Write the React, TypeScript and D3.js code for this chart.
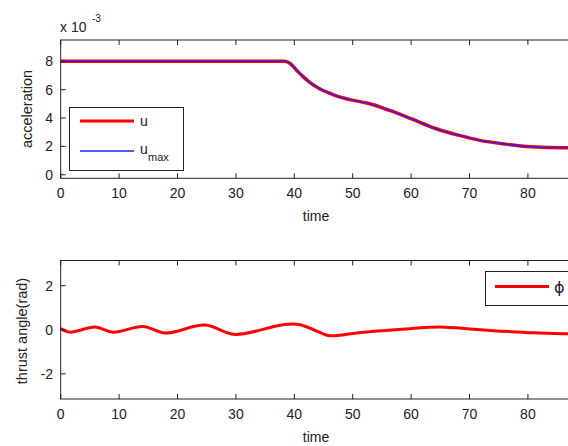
import React from "react";
import * as d3 from "d3";

const tU = [0, 38.4, 39.3, 40.4, 41.5, 42.7, 44.4, 46.0, 47.2, 49.5, 52.8, 56.2, 60.2, 64.2, 68.1, 71.6, 76.1, 80.6, 86.3, 90];
const uVals = [8, 8, 7.84, 7.37, 6.92, 6.5, 6.05, 5.75, 5.56, 5.3, 5.02, 4.55, 3.92, 3.26, 2.79, 2.44, 2.16, 1.97, 1.9, 1.9];
const uMaxVals = [8, 8, 7.84, 7.37, 6.92, 6.5, 6.05, 5.75, 5.56, 5.3, 5.02, 4.55, 3.92, 3.26, 2.79, 2.44, 2.16, 1.97, 1.9, 1.9];

const tPhi = [0, 1.6, 5.9, 9, 14.1, 17.9, 24.7, 29.8, 38.1, 41, 45.8, 47, 51.8, 59.8, 64.9, 71.8, 80.9, 86.6, 90];
const phiVals = [0.05, -0.11, 0.12, -0.11, 0.15, -0.15, 0.21, -0.21, 0.23, 0.23, -0.26, -0.27, -0.11, 0.05, 0.12, 0, -0.14, -0.18, -0.19];

const xTicks = [0, 10, 20, 30, 40, 50, 60, 70, 80];
const accTicks = [0, 2, 4, 6, 8];
const phiTicks = [-2, 0, 2];

const FONT = "Liberation Sans, Arial, sans-serif";

export default function App() {
  const x = d3.scaleLinear().domain([0, 90]).range([60.7, 586.3]);
  const yA = d3.scaleLinear().domain([-0.25, 9.5]).range([178.3, 40]);
  const yP = d3.scaleLinear().domain([-Math.PI, Math.PI]).range([399, 260.5]);

  const lineU = d3.line<number>().x((_, i) => x(tU[i])).y((d) => yA(d)).curve(d3.curveMonotoneX);
  const lineP = d3.line<number>().x((_, i) => x(tPhi[i])).y((d) => yP(d)).curve(d3.curveCatmullRom);

  const axisBox = (yScale: d3.ScaleLinear<number, number>, yt: number[], key: string) => {
    const [yb, ytp] = yScale.range();
    const x0 = x.range()[0];
    const x1 = x.range()[1];
    return (
      <g key={key}>
        <rect x={x0} y={ytp} width={x1 - x0} height={yb - ytp} fill="none" stroke="#222" strokeWidth={1} />
        {xTicks.map((t) => (
          <g key={"xt" + t}>
            <line x1={x(t)} x2={x(t)} y1={yb} y2={yb - 5} stroke="#222" />
            <line x1={x(t)} x2={x(t)} y1={ytp} y2={ytp + 5} stroke="#222" />
            <text x={x(t)} y={yb + 20} textAnchor="middle" fontSize={14} fontFamily={FONT} fill="#222">{t}</text>
          </g>
        ))}
        {yt.map((v) => (
          <g key={"yt" + v}>
            <line x1={x0} x2={x0 + 5} y1={yScale(v)} y2={yScale(v)} stroke="#222" />
            <text x={53} y={yScale(v) + 5} textAnchor="end" fontSize={14} fontFamily={FONT} fill="#222">{v}</text>
          </g>
        ))}
      </g>
    );
  };

  return (
    <svg width={568} height={446} style={{ position: "absolute", left: 0, top: 0, background: "#fff" }}>
      <rect x={0} y={0} width={568} height={446} fill="#fff" />
      {/* top plot */}
      <path d={lineU(uVals) || ""} fill="none" stroke="#ff0000" strokeWidth={3.5} />
      <path d={lineU(uMaxVals) || ""} fill="none" stroke="#2222ff" strokeWidth={1.3} />
      {axisBox(yA, accTicks, "a")}
      <text x={60} y={32} fontSize={14} fontFamily={FONT} fill="#222">x 10</text>
      <text x={92} y={22} fontSize={10} fontFamily={FONT} fill="#222">-3</text>
      <text transform="translate(32,109) rotate(-90)" textAnchor="middle" fontSize={14.5} fontFamily={FONT} fill="#222">acceleration</text>
      <text x={316} y={221} textAnchor="middle" fontSize={14} fontFamily={FONT} fill="#222">time</text>
      <g>
        <rect x={69.5} y={107.5} width={114} height={63} fill="#fff" stroke="#222" />
        <line x1={80} x2={134} y1={121} y2={121} stroke="#ff0000" strokeWidth={3} />
        <text x={140} y={126} fontSize={14} fontFamily={FONT} fill="#222">u</text>
        <line x1={80} x2={134} y1={151} y2={151} stroke="#2222ff" strokeWidth={1.3} />
        <text x={140} y={154} fontSize={14} fontFamily={FONT} fill="#222">u</text>
        <text x={148} y={161} fontSize={11} fontFamily={FONT} fill="#222">max</text>
      </g>
      {/* bottom plot */}
      <path d={lineP(phiVals) || ""} fill="none" stroke="#ff0000" strokeWidth={3} />
      {axisBox(yP, phiTicks, "p")}
      <text transform="translate(27,331) rotate(-90)" textAnchor="middle" fontSize={14.5} fontFamily={FONT} fill="#222">thrust angle(rad)</text>
      <text x={316} y={442} textAnchor="middle" fontSize={14} fontFamily={FONT} fill="#222">time</text>
      <g>
        <rect x={485.5} y={271.5} width={100} height={34} fill="#fff" stroke="#222" />
        <line x1={495} x2={549} y1={286.5} y2={286.5} stroke="#ff0000" strokeWidth={3} />
        <text x={554} y={293} fontSize={16} fontFamily="DejaVu Sans, sans-serif" fill="#222">ϕ</text>
      </g>
    </svg>
  );
}
